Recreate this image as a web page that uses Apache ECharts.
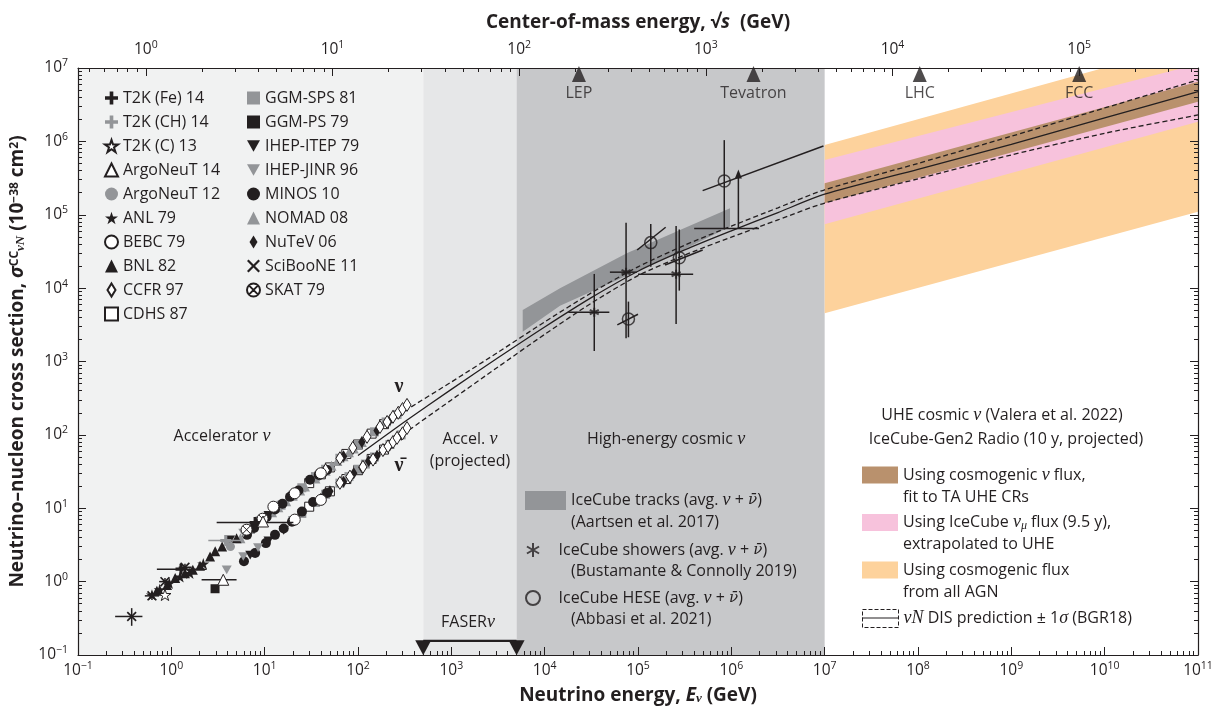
<!DOCTYPE html>
<html lang="en">
<head>
<meta charset="utf-8">
<title>Neutrino-nucleon cross section</title>
<script src="https://cdn.jsdelivr.net/npm/echarts@6.0.0/dist/echarts.min.js"></script>
<style>
  html, body { margin: 0; padding: 0; background: #fff; }
  #chart { width: 1221px; height: 712px; }
</style>
</head>
<body>
<div id="chart"></div>
<script>
const INK = '#231f20';
const GREY = '#939598';
const FONT = '"Open Sans", "DejaVu Sans", sans-serif';
const SERIF = '"Liberation Serif", "DejaVu Serif", serif';
const NUBAR_FONT = '"DejaVu Serif", serif';

// axes
const E_MIN = 0.1, E_MAX = 1e11;
const SIG_MIN = 0.1, SIG_MAX = 1e7;
const M_NUCLEON = 0.938; // GeV, sqrt(s) = sqrt(2 m E)
const E_DECADES = [1e-1, 1e0, 1e1, 1e2, 1e3, 1e4, 1e5, 1e6, 1e7, 1e8, 1e9, 1e10, 1e11];
const SIG_DECADES = [1e-1, 1e0, 1e1, 1e2, 1e3, 1e4, 1e5, 1e6, 1e7];
const CM_DECADES = [1e0, 1e1, 1e2, 1e3, 1e4, 1e5];

// energy regions (GeV)
const REGION_EDGES = [[0.1, 500], [500, 5000], [5000, 1e7]];
const REGION_COLORS = ['#f1f2f2', '#e6e7e8', '#c7c8ca'];

// colliders, sqrt(s) in GeV
const COLLIDERS = ['LEP', 'Tevatron', 'LHC', 'FCC'];
const COLLIDER_SQRT_S = [209, 1800, 14000, 100000];

const FASER_RANGE = [500, 5000];

// accelerator data [E (GeV), sigma (1e-38 cm2), ...error bars]
const SCIBOONE_11 = [[0.376, 0.335, 0.25, 0.49, 0.25, 0.435], [0.62, 0.64, 0.52, 0.74, 0.56, 0.73],
  [0.855, 1.0, 0.74, 0.98, 0.9, 1.12], [1.4, 1.57, 1.2, 1.65, 1.42, 1.75]];
const T2K_FE_14 = [[1.27, 1.48, 0.70, 2.39], [7.9, 6.38, 3.06, 20.3]];
const T2K_CH_14 = [[3.83, 3.63, 2.49, 5.9]];
const T2K_C_13 = [[0.855, 0.66]];
const ARGONEUT_14 = [[3.6, 1.06, 2.11, 5.0], [9.6, 6.6]];
const ARGONEUT_12 = [[4.3, 3.0]];
const ANL_79 = [[0.62, 0.66], [0.75, 0.78], [0.95, 0.95], [1.24, 1.16], [1.58, 1.3], [2.2, 1.75]];
const BEBC_79 = [[12.4, 10.5], [21, 16], [40, 30], [21, 7.0], [40, 13]];
const BNL_82 = [[0.7, 0.75], [0.9, 0.9], [1.1, 1.12], [1.4, 1.3], [1.7, 1.45], [2.03, 1.64], [2.6, 2.2],
  [2.95, 2.6], [3.5, 3.0], [5, 3.9]];
const CCFR_97 = [[45, 33], [64, 48], [88, 66.5], [125, 94], [172, 128], [205, 150], [237, 176], [270, 200], [300, 225], [335, 256],
  [64, 22.2], [82, 27], [113, 36.6], [145, 46], [185, 62], [210, 70], [237, 80], [262, 91], [300, 105], [335, 124]];
const CDHS_87 = [[30, 22], [40, 29], [50, 36], [75, 55], [100, 74], [140, 104], [190, 140],
  [30, 10.5], [50, 17], [75, 25], [100, 33], [140, 47], [190, 63]];
const GGM_SPS_81 = [[15, 11], [20, 15], [25, 19], [35, 27], [45, 34], [64, 48], [100, 72], [150, 110], [200, 150], [262, 190],
  [20, 6.8], [25, 8.5], [35, 12], [45, 15.5], [64, 22], [80, 27], [100, 34], [120, 40], [150, 50], [220, 74], [290, 100]];
const GGM_PS_79 = [[2.94, 0.80]];
const IHEP_ITEP_79 = [[4.26, 3.71], [7.0, 5.2], [11, 8.0], [7.0, 2.3], [11, 3.6], [16, 5.0]];
const IHEP_JINR_96 = [[3.92, 3.3], [5.9, 4.6], [9, 6.8], [3.92, 1.45], [5.9, 2.2], [8.5, 2.9]];
const MINOS_10 = [[6.47, 4.34], [7.7, 5.4], [8.9, 6.53], [10.5, 7.6], [12.9, 9.6], [15.5, 11.5], [18.7, 14.3], [23, 17.5],
  [30.6, 24.4], [38, 28.5], [46.6, 33.3],
  [6.0, 1.9], [7.9, 2.45], [10.3, 3.35], [12.9, 4.34], [16, 5.3], [19.6, 6.53], [25.1, 9.0], [33, 12.2], [46.6, 16.2]];
const NOMAD_08 = [[5.5, 3.9], [7, 5.2], [9.5, 6.8], [12, 8.8], [14, 10.3], [17, 12.5], [20, 14.8], [24, 17.5], [27, 19.8],
  [35, 25.5], [45, 32.5], [52, 38], [60, 44], [70, 51], [80, 58], [90, 65], [110, 80]];
const NUTEV_06 = [[40, 29], [70, 51], [110, 80], [160, 115], [220, 160], [290, 215],
  [40, 13.5], [50, 17], [70, 23], [90, 30], [110, 36], [130, 44], [160, 52], [190, 63], [220, 72], [260, 90], [290, 100]];
const SKAT_79 = [[6.4, 5.1], [9.5, 7.2]];

// IceCube
const TRACKS_E = [5820, 14600, 75700, 282000, 968000];
const TRACKS_HI = [5050, 10000, 29900, 62100, 123000];
const TRACKS_LO = [2550, 5750, 14800, 31600, 69000];

const SHOWER_E = [3.4e4, 7.45e4, 2.56e5];
const SHOWER_SIG = [4700, 1.65e4, 1.55e4];
const SHOWER_E_LO = [1.79e4, 5.0e4, 1.0e5];
const SHOWER_E_HI = [4.93e4, 9.7e4, 3.9e5];
const SHOWER_SIG_LO = [1390, 2080, 3250];
const SHOWER_SIG_HI = [1.56e4, 7.8e4, 7.0e4];
const LIMIT_E = [1.19e6], LIMIT_SIG = [6.5e4], LIMIT_E_LO = [4.0e5], LIMIT_E_HI = [1.98e6], LIMIT_TOP = [3.9e5];

const HESE_E = [7.9e4, 1.37e5, 2.77e5, 8.4e5];
const HESE_SIG = [3800, 4.17e4, 2.6e4, 2.88e5];
const HESE_SIG_LO = [2140, 1.96e4, 9250, 6.5e4];
const HESE_SIG_HI = [6550, 7.5e4, 6.3e4, 1.04e6];
const HESE_BAR_E1 = [6.0e4, 9.8e4, 1.95e5, 4.93e5];
const HESE_BAR_S1 = [3150, 3.31e4, 2.07e4, 2.13e5];
const HESE_BAR_E2 = [1.0e5, 1.98e5, 4.93e5, 9.7e6];
const HESE_BAR_S2 = [4410, 6.76e4, 3.31e4, 8.65e5];

// UHE projections
const UHE_E = [1e7, 1e11];
const ORANGE_LO = [4550, 1.1e5], ORANGE_HI = [8.93e5, 2.27e7];
const PINK_LO = [7.4e4, 1.85e6], PINK_HI = [5.58e5, 1.13e7];
const BROWN_LO = [1.44e5, 3.47e6], BROWN_HI = [2.69e5, 6.5e6];

// BGR18 prediction
const PRED_E = [1e2, 3.16e2, 1e3, 3.16e3, 1e4, 3.16e4, 1e5, 3.16e5, 1e6, 3.16e6, 1e7, 1e8, 1e9, 1e10, 1e11];
const PRED_MID = [52.5, 151, 417, 1122, 2951, 7413, 16982, 33113, 60256, 107152, 190546, 416869, 912011, 2089296, 4753352];
const PRED_UP = [79.4, 211, 525, 1334, 3467, 8610, 19498, 38459, 69984, 124451, 218776, 501187, 1174898, 2851018, 6870684];
const PRED_LO = [34.7, 105, 299, 841, 2344, 6237, 14791, 28184, 49545, 85114, 144544, 309030, 653131, 1288250, 2290868];

const NU = '\u03bd';
const NUBAR = '\u03bd\u0304';
const N_TRACKS = 'IceCube tracks (avg. ' + NU + ' + ' + NUBAR + ')';
const N_SHOWERS = 'IceCube showers (avg. ' + NU + ' + ' + NUBAR + ')';
const N_HESE = 'IceCube HESE (avg. ' + NU + ' + ' + NUBAR + ')';
const N_BROWN = 'Using cosmogenic ' + NU + ' flux,';
const N_PINK = 'Using IceCube ' + NU + '\u03bc flux (9.5 y),';
const N_ORANGE = 'Using cosmogenic flux';
const N_PRED = NU + 'N DIS prediction \u00b1 1\u03c3 (BGR18)';

const LEGEND_COL1 = ['T2K (Fe) 14', 'T2K (CH) 14', 'T2K (C) 13', 'ArgoNeuT 14', 'ArgoNeuT 12',
  'ANL 79', 'BEBC 79', 'BNL 82', 'CCFR 97', 'CDHS 87'];
const LEGEND_COL2 = ['GGM-SPS 81', 'GGM-PS 79', 'IHEP-ITEP 79', 'IHEP-JINR 96', 'MINOS 10',
  'NOMAD 08', 'NuTeV 06', 'SciBooNE 11', 'SKAT 79'];

const AVG = '(avg. {i|' + NU + '} + {ib|' + NUBAR + '})';
const LEGEND_RICH = {};
LEGEND_RICH[N_TRACKS] = 'IceCube tracks ' + AVG;
LEGEND_RICH[N_SHOWERS] = 'IceCube showers ' + AVG;
LEGEND_RICH[N_HESE] = 'IceCube HESE ' + AVG;
LEGEND_RICH[N_BROWN] = 'Using cosmogenic {i|' + NU + '} flux,';
LEGEND_RICH[N_PINK] = 'Using IceCube {i|' + NU + '}{sub|\u03bc} flux (9.5 y),';
LEGEND_RICH[N_PRED] = '{i|' + NU + 'N} DIS prediction \u00b1 1{i|\u03c3} (BGR18)';

const SYM = {
  plus: 'path://M3.6,0H6.4V3.6H10V6.4H6.4V10H3.6V6.4H0V3.6H3.6Z',
  cross: 'path://M1.2,0L5,3.8L8.8,0L10,1.2L6.2,5L10,8.8L8.8,10L5,6.2L1.2,10L0,8.8L3.8,5L0,1.2Z',
  star: 'path://M50,0L61.8,35.3L98.9,35.3L68.9,57.1L80.3,92.4L50,70.6L19.7,92.4L31.1,57.1L1.1,35.3L38.2,35.3Z',
  down: 'path://M0,0L10,0L5,8.7Z',
  diamond: 'path://M4,0L8,6.5L4,13L0,6.5Z',
  otimes: 'path://M0,10A10,10,0,1,1,20,10A10,10,0,1,1,0,10ZM2.93,2.93L17.07,17.07M17.07,2.93L2.93,17.07',
  asterisk: 'path://M5,0L5,10M0.67,2.5L9.33,7.5M0.67,7.5L9.33,2.5'
};

function minorValues(lo, hi) {
  const out = [];
  for (let k = -2; k <= 12; k++) {
    for (let m = 2; m <= 9; m++) {
      const v = m * Math.pow(10, k);
      if (v > lo && v < hi) out.push(v);
    }
  }
  return out;
}

function powLabel(v) {
  const k = Math.round(Math.log10(v));
  return '10{s|' + (k < 0 ? '\u2212' + (-k) : k) + '}';
}

const CM_MIN = Math.sqrt(2 * M_NUCLEON * E_MIN);
const CM_MAX = Math.sqrt(2 * M_NUCLEON * E_MAX);

const tickLabel = {
  color: INK, fontSize: 15.5, fontFamily: FONT, lineHeight: 20,
  formatter: powLabel,
  rich: { s: { fontSize: 10.5, lineHeight: 10, verticalAlign: 'top', fontFamily: FONT, color: INK } }
};
const axisLineStyle = { lineStyle: { color: INK, width: 1.2 } };
const nameRich = {
  b: { fontSize: 19, fontWeight: 'bold', fontFamily: FONT, color: INK },
  bi: { fontSize: 19, fontWeight: 'bold', fontStyle: 'italic', fontFamily: FONT, color: INK },
  bs: { fontSize: 13, fontWeight: 'bold', fontStyle: 'italic', fontFamily: SERIF, color: INK, verticalAlign: 'bottom' },
  sp: { fontSize: 12, fontWeight: 'bold', fontFamily: FONT, color: INK, verticalAlign: 'top' },
  sb: { fontSize: 13, fontWeight: 'bold', fontStyle: 'italic', fontFamily: SERIF, color: INK, verticalAlign: 'bottom' }
};

function majorAxis(min, max, pos, values, extra) {
  return Object.assign({
    type: 'log', min: min, max: max, position: pos, z: 10,
    axisLine: axisLineStyle,
    axisTick: { inside: true, length: 8, customValues: values, lineStyle: { color: INK, width: 1 } },
    axisLabel: Object.assign({ customValues: values }, tickLabel),
    splitLine: { show: false }, minorTick: { show: false }
  }, extra || {});
}
function minorAxis(min, max, pos) {
  return {
    type: 'log', min: min, max: max, position: pos, z: 10,
    axisLine: { show: false },
    axisTick: { inside: true, length: 4, customValues: minorValues(min, max), lineStyle: { color: INK, width: 1 } },
    axisLabel: { show: false }, splitLine: { show: false }
  };
}

function expSeries(name, data, symbol, size, fill, stroke, z) {
  return {
    name: name, type: 'scatter', silent: true, z: z || 4,
    data: data.map(d => [d[0], d[1]]),
    symbol: symbol, symbolSize: size, symbolKeepAspect: true,
    itemStyle: { color: fill, borderColor: stroke || fill, borderWidth: stroke ? 1 : 0, opacity: 1 }
  };
}

function errorBars(rows, color, z) {
  return {
    type: 'custom', silent: true, z: z || 4, clip: true,
    data: rows.map(r => [r[0], r[1], r[2] ?? r[0], r[3] ?? r[0], r[4] ?? r[1], r[5] ?? r[1]]),
    renderItem: function (params, api) {
      const c = api.coord([api.value(0), api.value(1)]);
      const xl = api.coord([api.value(2), api.value(1)]);
      const xh = api.coord([api.value(3), api.value(1)]);
      const yl = api.coord([api.value(0), api.value(4)]);
      const yh = api.coord([api.value(0), api.value(5)]);
      const st = { stroke: color, lineWidth: 1.5 };
      return { type: 'group', children: [
        { type: 'line', shape: { x1: xl[0], y1: c[1], x2: xh[0], y2: c[1] }, style: st },
        { type: 'line', shape: { x1: c[0], y1: yl[1], x2: c[0], y2: yh[1] }, style: st }
      ] };
    }
  };
}

function bandSeries(name, xs, lo, hi, color, z) {
  return {
    name: name, type: 'custom', silent: true, z: z, clip: true,
    itemStyle: { color: color },
    data: xs.map((x, i) => [x, lo[i], hi[i]]),
    renderItem: function (params, api) {
      if (params.dataIndex !== 0) return null;
      const pts = [];
      for (let i = 0; i < xs.length; i++) pts.push(api.coord([xs[i], hi[i]]));
      for (let i = xs.length - 1; i >= 0; i--) pts.push(api.coord([xs[i], lo[i]]));
      return { type: 'polygon', shape: { points: pts }, style: { fill: color } };
    }
  };
}

function predLine(name, ys, dashed) {
  return {
    name: name, type: 'line', silent: true, z: 3, smooth: 0.25, showSymbol: false, symbol: 'none',
    data: PRED_E.map((e, i) => [e, ys[i]]),
    lineStyle: { color: INK, width: 1.3, type: dashed ? [5, 3] : 'solid' }
  };
}

const series = [
  {
    type: 'custom', silent: true, z: 0, data: REGION_EDGES,
    renderItem: function (params, api) {
      const a = api.coord([api.value(0), SIG_MAX]);
      const b = api.coord([api.value(1), SIG_MIN]);
      return { type: 'rect', shape: { x: a[0], y: a[1], width: b[0] - a[0], height: b[1] - a[1] },
        style: { fill: REGION_COLORS[params.dataIndex] } };
    }
  },
  bandSeries(N_ORANGE, UHE_E, ORANGE_LO, ORANGE_HI, '#fdd29c', 1),
  bandSeries(N_PINK, UHE_E, PINK_LO, PINK_HI, '#f7c2dc', 1),
  bandSeries(N_BROWN, UHE_E, BROWN_LO, BROWN_HI, '#b9916d', 1),
  bandSeries(N_TRACKS, TRACKS_E, TRACKS_LO, TRACKS_HI, GREY, 1),
  predLine(N_PRED, PRED_UP, true),
  predLine('', PRED_LO, true),
  predLine('', PRED_MID, false),

  expSeries('CDHS 87', CDHS_87, 'rect', 9, '#fff', INK),
  expSeries('GGM-SPS 81', GGM_SPS_81, 'rect', 9, GREY),
  expSeries('NOMAD 08', NOMAD_08, 'triangle', 10, GREY),
  expSeries('MINOS 10', MINOS_10, 'circle', 10, INK),
  expSeries('NuTeV 06', NUTEV_06, SYM.diamond, 12, INK),
  expSeries('CCFR 97', CCFR_97, SYM.diamond, 13, '#fff', INK),
  expSeries('IHEP-JINR 96', IHEP_JINR_96, SYM.down, 10, GREY),
  expSeries('IHEP-ITEP 79', IHEP_ITEP_79, SYM.down, 10, INK),
  expSeries('BNL 82', BNL_82, 'triangle', 10, INK),
  expSeries('ANL 79', ANL_79, SYM.star, 12, INK),
  expSeries('T2K (C) 13', T2K_C_13, SYM.star, 12, '#fff', INK),
  expSeries('ArgoNeuT 12', ARGONEUT_12, 'circle', 9, GREY),
  expSeries('BEBC 79', BEBC_79, 'circle', 11, '#fff', INK),
  expSeries('SKAT 79', SKAT_79, SYM.otimes, 11, '#fff', INK),
  expSeries('GGM-PS 79', GGM_PS_79, 'rect', 9, INK),
  errorBars(T2K_FE_14, INK, 5),
  expSeries('T2K (Fe) 14', T2K_FE_14, SYM.plus, 11, INK, null, 5),
  errorBars(T2K_CH_14, GREY, 5),
  expSeries('T2K (CH) 14', T2K_CH_14, SYM.plus, 11, GREY, null, 5),
  errorBars(ARGONEUT_14.filter(r => r.length > 2), INK, 5),
  expSeries('ArgoNeuT 14', ARGONEUT_14, 'triangle', 11, '#fff', INK, 5),
  errorBars(SCIBOONE_11, INK, 5),
  expSeries('SciBooNE 11', SCIBOONE_11, SYM.cross, 10, INK, null, 5),

  // IceCube showers
  errorBars(SHOWER_E.map((e, i) => [e, SHOWER_SIG[i], SHOWER_E_LO[i], SHOWER_E_HI[i], SHOWER_SIG_LO[i], SHOWER_SIG_HI[i]]), INK, 6),
  {
    name: N_SHOWERS, type: 'scatter', silent: true, z: 7,
    data: SHOWER_E.map((e, i) => [e, SHOWER_SIG[i]]),
    symbol: SYM.asterisk, symbolSize: 9,
    itemStyle: { color: 'transparent', borderColor: INK, borderWidth: 2 }
  },
  {
    type: 'custom', silent: true, z: 6,
    data: LIMIT_E.map((e, i) => [e, LIMIT_SIG[i], LIMIT_E_LO[i], LIMIT_E_HI[i], LIMIT_TOP[i]]),
    renderItem: function (params, api) {
      const c = api.coord([api.value(0), api.value(1)]);
      const l = api.coord([api.value(2), api.value(1)]);
      const h = api.coord([api.value(3), api.value(1)]);
      const t = api.coord([api.value(0), api.value(4)]);
      const st = { stroke: INK, lineWidth: 1.5 };
      return { type: 'group', children: [
        { type: 'line', shape: { x1: l[0], y1: c[1], x2: h[0], y2: c[1] }, style: st },
        { type: 'line', shape: { x1: c[0], y1: c[1], x2: c[0], y2: t[1] + 4 }, style: st },
        { type: 'polygon', shape: { points: [[c[0], t[1] - 2], [c[0] - 3.5, t[1] + 7], [c[0] + 3.5, t[1] + 7]] }, style: { fill: INK } }
      ] };
    }
  },
  // IceCube HESE
  {
    type: 'custom', silent: true, z: 6,
    data: HESE_E.map((e, i) => [e, HESE_SIG[i], HESE_SIG_LO[i], HESE_SIG_HI[i], HESE_BAR_E1[i], HESE_BAR_S1[i], HESE_BAR_E2[i], HESE_BAR_S2[i]]),
    renderItem: function (params, api) {
      const lo = api.coord([api.value(0), api.value(2)]);
      const hi = api.coord([api.value(0), api.value(3)]);
      const a = api.coord([api.value(4), api.value(5)]);
      const b = api.coord([api.value(6), api.value(7)]);
      const st = { stroke: INK, lineWidth: 1.5 };
      return { type: 'group', children: [
        { type: 'line', shape: { x1: lo[0], y1: lo[1], x2: hi[0], y2: hi[1] }, style: st },
        { type: 'line', shape: { x1: a[0], y1: a[1], x2: b[0], y2: b[1] }, style: st }
      ] };
    }
  },
  {
    name: N_HESE, type: 'scatter', silent: true, z: 7,
    data: HESE_E.map((e, i) => [e, HESE_SIG[i]]),
    symbol: 'circle', symbolSize: 12,
    itemStyle: { color: 'transparent', borderColor: INK, borderWidth: 1.5 }
  },

  // FASERnu range
  {
    type: 'line', silent: true, z: 6,
    data: FASER_RANGE.map(e => [e, 0.156]),
    symbol: SYM.down, symbolSize: [16, 15], symbolOffset: [0, 7], showSymbol: true,
    itemStyle: { color: INK }, lineStyle: { color: INK, width: 2.4 }
  },
  // collider reach on the sqrt(s) axis
  {
    type: 'scatter', silent: true, z: 6, xAxisIndex: 2,
    data: COLLIDERS.map((n, i) => ({ name: n, value: [COLLIDER_SQRT_S[i], 8.3e6] })),
    symbol: 'triangle', symbolSize: [14, 16],
    itemStyle: { color: INK },
    label: { show: true, position: 'bottom', distance: 3, formatter: '{b}', color: INK, fontSize: 16, fontFamily: FONT }
  }
];

const legendRichStyles = {
  i: { fontFamily: SERIF, fontStyle: 'italic', fontSize: 18, lineHeight: 18, color: INK },
  ib: { fontFamily: NUBAR_FONT, fontStyle: 'italic', fontSize: 15, lineHeight: 18, color: INK },
  sub: { fontFamily: SERIF, fontStyle: 'italic', fontSize: 12, lineHeight: 12, verticalAlign: 'bottom', color: INK }
};
function legendBox(extra) {
  return Object.assign({
    orient: 'vertical', padding: 0, selectedMode: false,
    textStyle: { color: INK, fontSize: 16, fontFamily: FONT, lineHeight: 18, rich: legendRichStyles },
    formatter: name => LEGEND_RICH[name] || name
  }, extra);
}

const GRAPHIC_RICH = {
  i: { fontFamily: SERIF, fontStyle: 'italic', fontSize: 18, fill: INK },
  sub: { fontFamily: SERIF, fontStyle: 'italic', fontSize: 12, fill: INK, verticalAlign: 'bottom' }
};
function note(text, x, y, align, extra) {
  return {
    type: 'text', x: x, y: y, z: 50, silent: true,
    style: Object.assign({
      text: text, fill: INK, fontSize: 16, fontFamily: FONT,
      textAlign: align || 'center', textVerticalAlign: 'middle', verticalAlign: 'middle', rich: GRAPHIC_RICH
    }, extra || {})
  };
}

const option = {
  animation: false,
  backgroundColor: '#fff',
  textStyle: { fontFamily: FONT, color: INK },
  grid: { left: 78, right: 23, top: 68, bottom: 57, containLabel: false, outerBoundsMode: 'none' },
  xAxis: [
    majorAxis(E_MIN, E_MAX, 'bottom', E_DECADES, {
      name: '{b|Neutrino energy, }{bi|E}{bs|' + NU + '}{b| (GeV)}', nameLocation: 'middle', nameGap: 31,
      nameTextStyle: { rich: nameRich }, axisLabel: Object.assign({ customValues: E_DECADES, margin: 6 }, tickLabel)
    }),
    minorAxis(E_MIN, E_MAX, 'bottom'),
    majorAxis(CM_MIN, CM_MAX, 'top', CM_DECADES, {
      name: '{b|Center-of-mass energy, \u221a}{bi|s}{b|  (GeV)}', nameLocation: 'middle', nameGap: 36,
      nameTextStyle: { rich: nameRich }, axisLabel: Object.assign({ customValues: CM_DECADES, margin: 8 }, tickLabel)
    }),
    minorAxis(CM_MIN, CM_MAX, 'top')
  ],
  yAxis: [
    majorAxis(SIG_MIN, SIG_MAX, 'left', SIG_DECADES, {
      name: '{b|Neutrino\u2013nucleon cross section, }{bi|\u03c3}{sp|CC}{sb|' + NU + 'N}{b| (10}{sp|\u221238}{b| cm}{sp|2}{b|)}',
      nameLocation: 'middle', nameGap: 44, nameTextStyle: { rich: nameRich },
      axisLabel: Object.assign({ customValues: SIG_DECADES, margin: 10 }, tickLabel)
    }),
    minorAxis(SIG_MIN, SIG_MAX, 'left'),
    majorAxis(SIG_MIN, SIG_MAX, 'right', SIG_DECADES, { axisLabel: { show: false } }),
    minorAxis(SIG_MIN, SIG_MAX, 'right')
  ],
  legend: [
    legendBox({ data: LEGEND_COL1, left: 104, top: 89, itemWidth: 13, itemHeight: 13, itemGap: 6 }),
    legendBox({ data: LEGEND_COL2, left: 246, top: 89, itemWidth: 13, itemHeight: 13, itemGap: 6 }),
    legendBox({ data: [N_TRACKS], left: 525, top: 491, itemWidth: 41, itemHeight: 19, icon: 'rect' }),
    legendBox({ data: [N_SHOWERS, N_HESE], left: 525, top: 541, itemWidth: 41, itemHeight: 14, itemGap: 30 }),
    legendBox({ data: [N_BROWN, N_PINK, N_ORANGE], left: 862, top: 466, itemWidth: 36, itemHeight: 17, itemGap: 29.5, icon: 'rect' }),
    legendBox({
      data: [{ name: N_PRED, icon: 'rect', itemStyle: { color: 'transparent', borderColor: INK, borderWidth: 1, borderType: 'dashed' } }],
      left: 862, top: 609, itemWidth: 36, itemHeight: 18
    })
  ],
  graphic: [
    note('Accelerator {i|' + NU + '}', 222, 436),
    note('Accel. {i|' + NU + '}', 470, 439),
    note('(projected)', 470, 461),
    note('High-energy cosmic {i|' + NU + '}', 666, 439),
    note('UHE cosmic {i|' + NU + '} (Valera et al. 2022)', 1002, 415),
    note('IceCube-Gen2 Radio (10 y, projected)', 1006, 439),
    note('FASER{i|' + NU + '}', 468, 622),
    note(NU, 399, 387, 'center', { fontFamily: SERIF, fontWeight: 'bold', fontSize: 20 }),
    note(NUBAR, 399, 466, 'center', { fontFamily: SERIF, fontWeight: 'bold', fontSize: 20 }),
    note('(Aartsen et al. 2017)', 571, 522, 'left'),
    note('(Bustamante & Connolly 2019)', 571, 571, 'left'),
    note('(Abbasi et al. 2021)', 571, 619, 'left'),
    note('fit to TA UHE CRs', 903, 497, 'left'),
    note('extrapolated to UHE', 903, 544, 'left'),
    note('from all AGN', 903, 592, 'left'),
    { type: 'line', z: 50, silent: true, shape: { x1: 862, y1: 618, x2: 898, y2: 618 }, style: { stroke: INK, lineWidth: 1.2 } }
  ],
  series: series
};

const chart = echarts.init(document.getElementById('chart'), null, { renderer: 'canvas' });
chart.setOption(option);
</script>
</body>
</html>
